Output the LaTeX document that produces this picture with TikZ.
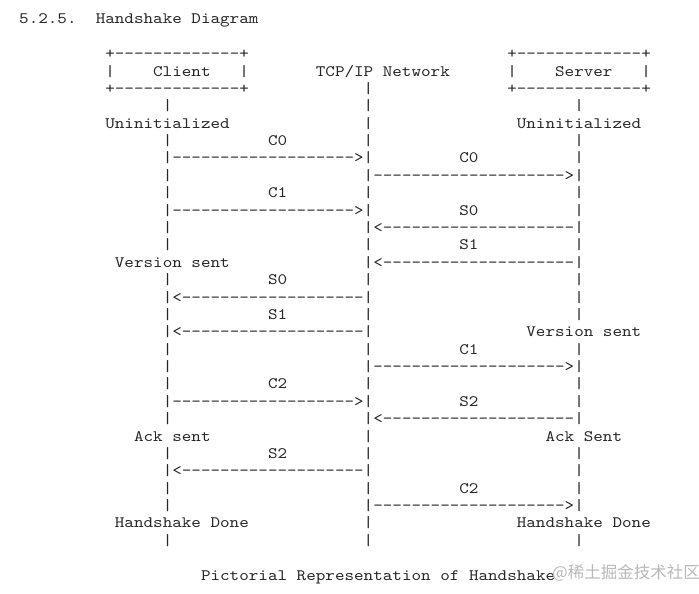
\documentclass[tikz,border=0pt]{standalone}
\usepackage{fontspec}
\newfontfamily\asciifont{lmmono10-regular}[Extension=.otf, FakeStretch=1.143]
\newfontfamily\cjkfont{Noto Sans CJK SC}
\usepackage{tikz}
\tikzset{
  ascii/.style={anchor=base west, inner sep=0pt, outer sep=0pt, text=black!85,
    font=\asciifont\fontsize{15.95}{17.4}\selectfont},
  stamp/.style={anchor=west, inner sep=0pt, text=black!28,
    font=\cjkfont\fontsize{16.5}{18}\selectfont}
}

\begin{document}
\begin{tikzpicture}[x=9.57pt, y=-17.375pt]
            \useasboundingbox (-19.2pt,24pt) rectangle (679.8pt,-570pt);
            \node[ascii] (title) at (0,0) {5.2.5.~~Handshake Diagram};
            \node[ascii] (ctop) at (9,2) {+-------------+};
            \node[ascii] (cname) at (9,3) {|~~~~Client~~~|};
            \node[ascii] (cbot) at (9,4) {+-------------+};
            \node[ascii] (stop) at (51,2) {+-------------+};
            \node[ascii] (sname) at (51,3) {|~~~~Server~~~|};
            \node[ascii] (sbot) at (51,4) {+-------------+};
            \node[ascii] (net) at (31,3) {TCP/IP Network};
            \foreach \r in {5,7,9,10,12,13,15,17,19,20,21,23,25,27,28,30}
                \node[ascii] (cl-\r) at (15,\r) {|};
            \foreach \r in {4,5,6,7,10,13,15,17,19,21,24,25,27,29,30}
                \node[ascii] (nl-\r) at (36,\r) {|};
            \foreach \r in {5,7,8,10,11,13,15,16,17,19,21,22,25,26,27,30}
                \node[ascii] (sl-\r) at (58,\r) {|};
            \foreach \r/\n in {8/c0,11/c1,22/c2}
                \node[ascii] (cto-\n) at (15,\r) {|------------------->|};
            \foreach \r/\n in {16/s0,18/s1,26/s2}
                \node[ascii] (cfrom-\n) at (15,\r) {|<-------------------|};
            \foreach \r/\n in {9/c0,20/c1,28/c2}
                \node[ascii] (sto-\n) at (36,\r) {|-------------------->|};
            \foreach \r/\n in {12/s0,14/s1,23/s2}
                \node[ascii] (sfrom-\n) at (36,\r) {|<--------------------|};
            \foreach \r/\t in {7/C0,10/C1,15/S0,17/S1,21/C2,25/S2}
                \node[ascii] (cmsg-\r) at (26,\r) {\t};
            \foreach \r/\t in {8/C0,11/S0,13/S1,19/C1,22/S2,27/C2}
                \node[ascii] (smsg-\r) at (46,\r) {\t};
            \node[ascii] (cinit) at (9,6) {Uninitialized};
            \node[ascii] (sinit) at (52,6) {Uninitialized};
            \node[ascii] (cver) at (10,14) {Version sent};
            \node[ascii] (sver) at (53,18) {Version sent};
            \node[ascii] (cack) at (12,24) {Ack sent};
            \node[ascii] (sack) at (55,24) {Ack Sent};
            \node[ascii] (cdone) at (10,29) {Handshake Done};
            \node[ascii] (sdone) at (52,29) {Handshake Done};
            \node[ascii] (caption) at (19,32) {Pictorial Representation of Handshake};
            \node[stamp] (wmark) at (532.8pt,-549pt) {@稀土掘金技术社区};
        \end{tikzpicture}
\end{document}
